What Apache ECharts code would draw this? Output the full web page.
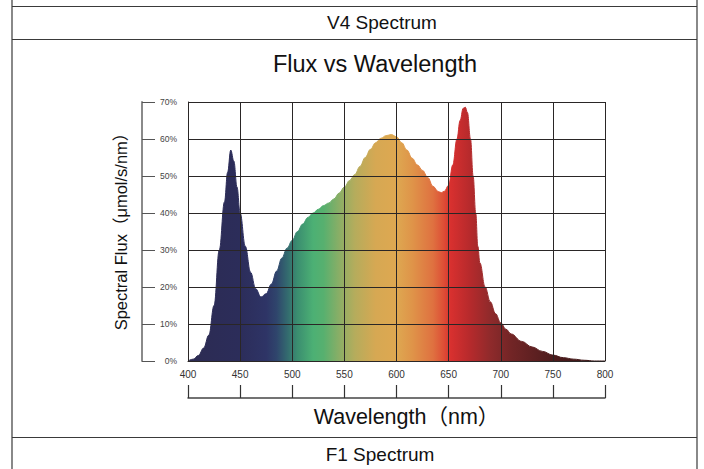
<!DOCTYPE html>
<html>
<head>
<meta charset="utf-8">
<script src="https://cdn.jsdelivr.net/npm/echarts@6/dist/echarts.min.js"></script>
<style>
html,body{margin:0;padding:0;background:#fff;}
#c{width:704px;height:469px;}
</style>
</head>
<body>
<div id="c"></div>
<script>
// ---- data ----
var wavelengths = [400,405,410,415,420,425,430,435,438,441,444,447,450,455,460,465,470,475,480,485,490,495,500,505,510,515,520,525,530,535,540,545,550,555,560,565,570,575,580,585,590,595,600,605,610,615,620,625,630,635,640,643,646,650,654,658,661,664,666,668,671,673.5,676,678,680,685,690,695,700,705,710,720,730,740,750,760,770,780,790,800];
var flux = [0,0.5,1.5,3.5,7,15,30,43,51,57,54,47,40,31,24,19.5,17.3,18.2,20.8,24.3,27.8,30.5,32.6,35,37,38.8,40,41,42,42.7,43.8,45.4,47,48.8,50.4,52.6,55,57.2,59,60.2,60.9,61.2,60.6,59,57,54.8,53,51.5,49.6,47.2,45.8,45.5,45.9,47.5,53,60,65,68.3,68.6,67.2,60,50,40,31,26.5,20,16,12.8,10.3,8.6,7.3,5.3,3.8,2.6,1.6,0.9,0.5,0.2,0,0];
var xTicks = [400,450,500,550,600,650,700,750,800];
var yTickStep = 10;
var titleText = 'Flux vs Wavelength';
var xName = 'Wavelength（nm）';
var yName = 'Spectral Flux（μmol/s/nm）';
var rowTop = 'V4 Spectrum';
var rowBottom = 'F1 Spectrum';

var points = wavelengths.map(function(w,i){return [w, flux[i]];});

var FONT = 'Liberation Sans, Arial, Noto Sans CJK SC, sans-serif';
var chart = echarts.init(document.getElementById('c'), null, {renderer:'svg'});

var stopList = [
  [0,'#2c2b52'],[0.125,'#2c2d5a'],[0.1875,'#2e3466'],[0.2125,'#2f456c'],
  [0.2375,'#33696f'],[0.2625,'#3b8e70'],[0.3,'#4cb074'],[0.325,'#57b06f'],
  [0.3625,'#8aae66'],[0.4,'#b5ac5c'],[0.45,'#d6a853'],[0.5,'#dea851'],
  [0.5375,'#df9449'],[0.5875,'#df7140'],[0.6125,'#dd4f36'],[0.63,'#d8302f'],
  [0.675,'#b72a2c'],[0.725,'#8f2a2b'],[0.775,'#722526'],[0.875,'#4e1c1d'],[1,'#361414']
];
function grad(){
  return new echarts.graphic.LinearGradient(0,0,1,0, stopList.map(function(s){return {offset:s[0], color:s[1]};}));
}

var gridCol = '#2a2626';
var line = function(x1,y1,x2,y2){
  return {type:'line', silent:true, shape:{x1:x1,y1:y1,x2:x2,y2:y2}, style:{stroke:'#3a3a3a', lineWidth:1.2}};
};

chart.setOption({
  backgroundColor:'#fff',
  animation:false,
  title:[
    {text:titleText, left:370, top:47, textAlign:'center',
     textStyle:{fontFamily:FONT, fontSize:23.5, fontWeight:'normal', color:'#111'}},
    {text:rowTop, left:377, top:8, textAlign:'center',
     textStyle:{fontFamily:FONT, fontSize:19, fontWeight:'normal', color:'#111'}},
    {text:rowBottom, left:375, top:440, textAlign:'center',
     textStyle:{fontFamily:FONT, fontSize:19, fontWeight:'normal', color:'#111'}}
  ],
  graphic:[
    line(12,0,12,469), line(697,0,697,469),
    line(12,6.5,697,6.5), line(12,39.5,697,39.5), line(12,437.5,697,437.5)
  ],
  grid:{left:188, right:99, top:102, bottom:108},
  xAxis:[
    {type:'value', min:400, max:800, interval:50, z:5,
     axisLine:{show:true, onZero:false, lineStyle:{color:gridCol, width:1}},
     axisTick:{show:false},
     axisLabel:{margin:8, fontFamily:FONT, fontSize:10, color:'#333',
       customValues: xTicks},
     splitLine:{show:true, lineStyle:{color:gridCol, width:1}}},
    {type:'value', min:400, max:800, interval:50, position:'bottom', offset:37, z:5,
     axisLine:{show:true, onZero:false, lineStyle:{color:'#444', width:1.5}},
     axisTick:{show:true, inside:true, length:13, lineStyle:{color:'#333', width:1.2}},
     axisLabel:{show:false}, splitLine:{show:false},
     name:xName, nameLocation:'middle', nameGap:8,
     nameTextStyle:{fontFamily:FONT, fontSize:21.5, color:'#111', padding:[0,0,0,20]}}
  ],
  yAxis:[
    {type:'value', min:0, max:70, interval:yTickStep, z:5,
     axisLine:{show:true, lineStyle:{color:gridCol, width:1}},
     axisTick:{show:false},
     axisLabel:{margin:11, fontFamily:FONT, fontSize:8.5, color:'#444', formatter:'{value}%'},
     splitLine:{show:true, lineStyle:{color:gridCol, width:1}}},
    {type:'value', min:0, max:70, interval:yTickStep, position:'left', offset:46, z:5,
     axisLine:{show:true, lineStyle:{color:'#8a8a8a', width:2}},
     axisTick:{show:true, inside:true, length:13, lineStyle:{color:'#555', width:1}},
     axisLabel:{show:false}, splitLine:{show:false},
     name:yName, nameLocation:'middle', nameGap:13,
     nameTextStyle:{fontFamily:FONT, fontSize:16.5, color:'#111', padding:[0,0,0,8]}}
  ],
  series:[{
    type:'line', data:points, xAxisIndex:0, yAxisIndex:0,
    smooth:0.4, smoothMonotone:'x', symbol:'none', z:2,
    lineStyle:{width:1, color:grad()},
    areaStyle:{opacity:1, color:grad()}
  }]
});
</script>
</body>
</html>
